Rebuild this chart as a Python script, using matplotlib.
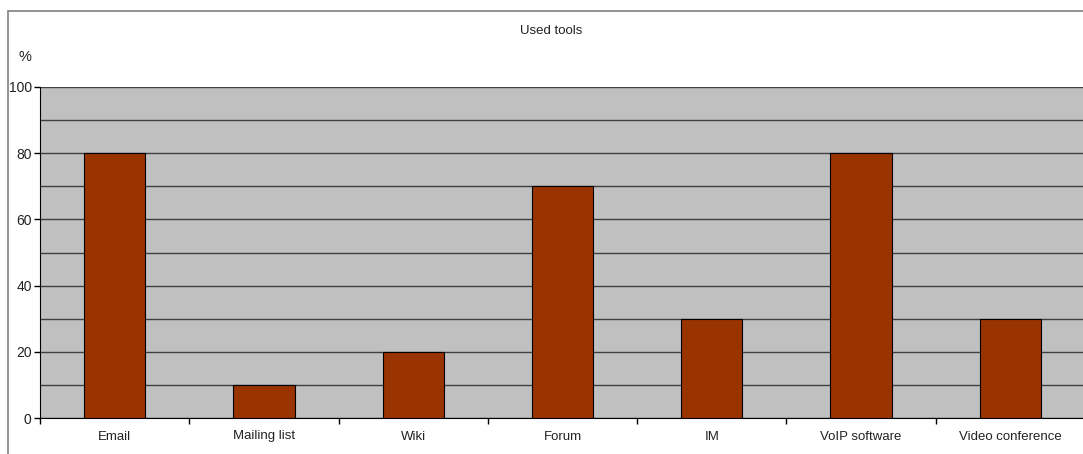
import numpy as np
import matplotlib.pyplot as plt
from matplotlib.patches import Rectangle

plt.rcParams['font.family'] = ['Liberation Sans', 'DejaVu Sans']

tools = ["Email", "Mailing list", "Wiki", "Forum", "IM", "VoIP software", "Video conference"]
percent = [80, 10, 20, 70, 30, 80, 30]
y_ticks = [0, 20, 40, 60, 80, 100]

fig = plt.figure(figsize=(10.83, 4.54), dpi=100)
# outer chart frame
fig.patches.append(Rectangle((8 / 1083, -0.1), 1.2, 1.1 - 11 / 454, transform=fig.transFigure,
                             fill=False, edgecolor="#808080", linewidth=1.2))

ax = fig.add_axes([40 / 1083, 1 - 418 / 454, 1045 / 1083, 331 / 454])
ax.set_facecolor("#c0c0c0")
x = np.arange(len(tools))
ax.bar(x, percent, width=0.41, color="#993300", edgecolor="black", linewidth=0.8, zorder=3)

ax.set_xlim(-0.5, len(tools) - 0.5)
ax.set_ylim(0, 100)
ax.set_yticks(y_ticks)
ax.set_yticks(np.arange(0, 101, 10), minor=True)
ax.grid(axis="y", which="both", color="#404040", linewidth=1.0, zorder=1)
ax.set_axisbelow(True)

ax.set_xticks(x)
ax.set_xticklabels(tools, fontsize=9.5, color="#222222")
ax.set_xticks(np.arange(-0.5, len(tools), 1), minor=True)
ax.tick_params(axis="x", which="major", length=0, pad=9)
ax.tick_params(axis="x", which="minor", length=4, width=1, direction="out")
ax.tick_params(axis="y", which="major", length=4, width=1, labelsize=10, labelcolor="#222222", pad=2)
ax.tick_params(axis="y", which="minor", length=0)

for s in ["top", "right"]:
    ax.spines[s].set_visible(False)
ax.spines["left"].set_color("black")
ax.spines["bottom"].set_color("black")

fig.text(551 / 1083, 1 - 31 / 454, "Used tools", ha="center", va="center", fontsize=9.5, color="#222222")
fig.text(25 / 1083, 1 - 57 / 454, "%", ha="center", va="center", fontsize=10.5, color="#222222")

fig.savefig("out.png", dpi=100)
